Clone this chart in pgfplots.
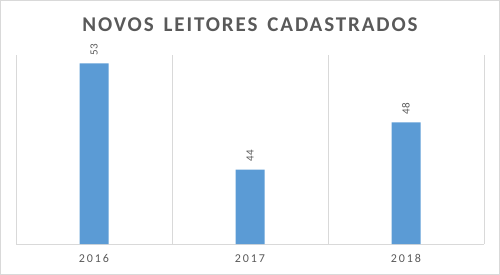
\documentclass[border=0pt]{standalone}
\usepackage{fontspec}
\setmainfont{Carlito}
\newfontfamily\titlefont[LetterSpace=9,WordSpace=1.5]{Carlito}
\newfontfamily\tickfont[LetterSpace=16]{Carlito}
\usepackage{pgfplots}
\pgfplotsset{compat=1.18}
\definecolor{barblue}{HTML}{5B9BD5}
\definecolor{txtgray}{HTML}{595959}
\definecolor{gridgray}{HTML}{D9D9D9}

\begin{document}
\begin{tikzpicture}
\useasboundingbox (0,0) rectangle (500bp,275bp);
\draw[gridgray] (0.5bp,0.5bp) rectangle (499.5bp,274.5bp);
\node[anchor=base, text=txtgray, font=\titlefont\bfseries\fontsize{21bp}{21bp}\selectfont]
  at (250bp,243bp) {NOVOS LEITORES CADASTRADOS};
\begin{axis}[
    at={(16bp,31bp)}, anchor=south west,
    scale only axis, width=468bp, height=189bp,
    ybar, bar width=29bp,
    xmin=-0.5, xmax=2.5,
    ymin=37.7, ymax=53.7,
    axis x line*=bottom, axis y line=none,
    x axis line style={gridgray, -},
    xtick={0,1,2}, xticklabels={2016,2017,2018},
    minor xtick={-0.5,0.5,1.5,2.5},
    xminorgrids=true,
    minor grid style={gridgray},
    major tick length=0pt, minor tick length=0pt,
    ytick=\empty,
    /pgf/number format/assume math mode=true,
    xticklabel style={font=\tickfont\fontsize{12bp}{12bp}\selectfont, text=txtgray, anchor=base, yshift=-18.7bp},
    nodes near coords,
    every node near coord/.append style={yshift=8bp, rotate=90, anchor=west, inner sep=0pt,
        font=\fontsize{11bp}{11bp}\selectfont, text=txtgray},
]
\addplot[fill=barblue, draw=none] coordinates {(0,53) (1,44) (2,48)};
\end{axis}
\end{tikzpicture}
\end{document}
